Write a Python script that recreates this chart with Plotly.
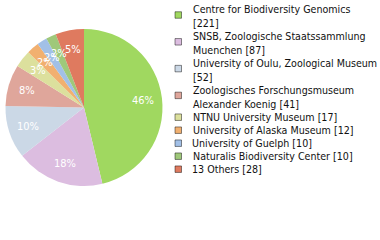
import plotly.graph_objects as go
import math

labels = [
    "Centre for Biodiversity Genomics",
    "SNSB, Zoologische Staatssammlung Muenchen",
    "University of Oulu, Zoological Museum",
    "Zoologisches Forschungsmuseum Alexander Koenig",
    "NTNU University Museum",
    "University of Alaska Museum",
    "University of Guelph",
    "Naturalis Biodiversity Center",
    "13 Others",
]
values = [221, 87, 52, 41, 17, 12, 10, 10, 28]
legend_lines = [
    ["Centre for Biodiversity Genomics", "[221]"],
    ["SNSB, Zoologische Staatssammlung", "Muenchen [87]"],
    ["University of Oulu, Zoological Museum", "[52]"],
    ["Zoologisches Forschungsmuseum", "Alexander Koenig [41]"],
    ["NTNU University Museum [17]"],
    ["University of Alaska Museum [12]"],
    ["University of Guelph [10]"],
    ["Naturalis Biodiversity Center [10]"],
    ["13 Others [28]"],
]
colors = ["#a0d860", "#dcbde0", "#cbd8e6", "#dfa69b", "#dce09d",
          "#f1b070", "#a2c0e7", "#9fc87a", "#df7a5f"]

W, H = 380, 240
CX, CY, R = 84, 107.5, 78.5
FONT = "DejaVu Sans Condensed, DejaVu Sans, sans-serif"

fig = go.Figure(go.Pie(
    labels=labels, values=values, sort=False, direction="clockwise",
    rotation=0, marker=dict(colors=colors, line=dict(width=0)),
    textinfo="none", hoverinfo="label+value+percent", showlegend=False,
    domain=dict(x=[(CX - R) / W, (CX + R) / W],
                y=[1 - (CY + R) / H, 1 - (CY - R) / H]),
))

total = sum(values)
annotations = []
cum = 0
for v in values:
    frac = v / total
    mid = (cum + frac / 2) * 2 * math.pi
    cum += frac
    rr = 0.755 * R
    px = CX + rr * math.sin(mid)
    py = CY - rr * math.cos(mid)
    annotations.append(dict(
        x=px / W, y=1 - py / H, xref="paper", yref="paper",
        text=f"{int(frac * 100)}%", showarrow=False,
        xanchor="center", yanchor="middle",
        font=dict(family=FONT, size=11, color="white"),
    ))

shapes = []
y = 10.0
for lines, c in zip(legend_lines, colors):
    n = len(lines)
    block_c = y + 6.4 * (n - 1)
    sw_c = y + 5 * (n - 1)
    annotations.append(dict(
        x=190.5 / W, y=1 - block_c / H, xref="paper", yref="paper",
        text="<br>".join(lines), showarrow=False, align="left",
        xanchor="left", yanchor="middle",
        font=dict(family=FONT, size=10.6, color="#111"),
    ))
    shapes.append(dict(
        type="rect", xref="paper", yref="paper",
        x0=175 / W, x1=181.5 / W,
        y0=1 - (sw_c + 3.25) / H, y1=1 - (sw_c - 3.25) / H,
        fillcolor=c, line=dict(color="rgba(0,0,0,0.45)", width=1),
    ))
    y += 26.8 if n == 2 else 13

fig.update_layout(
    width=W, height=H, margin=dict(l=0, r=0, t=0, b=0),
    paper_bgcolor="white", plot_bgcolor="white",
    annotations=annotations, shapes=shapes, showlegend=False,
)
fig.write_html("out.html")
